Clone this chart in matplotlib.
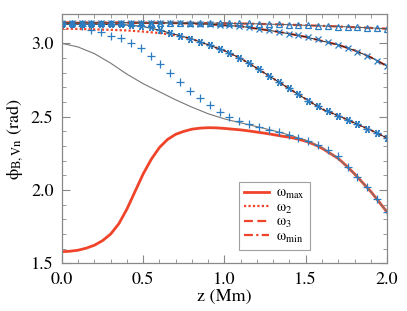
import numpy as np
import matplotlib
matplotlib.use("Agg")
import matplotlib.pyplot as plt

plt.rcParams['font.family'] = ['STIXGeneral', 'DejaVu Serif']
plt.rcParams['mathtext.fontset'] = 'stix'

# marker grid
z_mark = np.linspace(0, 2, 34)
plus_vals = [3.14, 3.135, 3.12, 3.09, 3.075, 3.052, 3.033, 3.0, 2.965, 2.915,
             2.86, 2.80, 2.738, 2.677, 2.625, 2.58, 2.534, 2.50, 2.47, 2.448,
             2.427, 2.409, 2.393, 2.375, 2.357, 2.333, 2.305, 2.27, 2.23, 2.16,
             2.09, 2.02, 1.94, 1.85]
star_vals = [3.135, 3.135, 3.135, 3.134, 3.133, 3.132, 3.13, 3.127, 3.12, 3.108,
             3.09, 3.07, 3.052, 3.032, 3.01, 2.987, 2.963, 2.935, 2.903, 2.865,
             2.822, 2.78, 2.737, 2.693, 2.652, 2.61, 2.572, 2.538, 2.508, 2.477,
             2.448, 2.418, 2.388, 2.355]
cross_vals = [3.14, 3.14, 3.14, 3.14, 3.14, 3.14, 3.14, 3.14, 3.139, 3.139,
              3.138, 3.138, 3.137, 3.135, 3.133, 3.13, 3.127, 3.122, 3.116, 3.109,
              3.10, 3.09, 3.078, 3.066, 3.055, 3.043, 3.028, 3.01, 2.99, 2.968,
              2.944, 2.915, 2.882, 2.845]
tri_vals = [3.142, 3.142, 3.142, 3.142, 3.142, 3.142, 3.142, 3.142, 3.142, 3.141,
            3.141, 3.141, 3.140, 3.140, 3.140, 3.139, 3.139, 3.138, 3.137, 3.136,
            3.134, 3.132, 3.130, 3.128, 3.126, 3.123, 3.120, 3.117, 3.114, 3.111,
            3.108, 3.105, 3.102, 3.10]

# curves
z_fine = np.round(np.arange(0, 2.0001, 0.05), 2)
wmax_vals = [1.58, 1.583, 1.59, 1.604, 1.624, 1.655, 1.70, 1.77, 1.87, 1.99,
             2.11, 2.21, 2.29, 2.345, 2.38, 2.40, 2.415, 2.422, 2.425, 2.424,
             2.42, 2.415, 2.41, 2.403, 2.395, 2.387, 2.378, 2.368, 2.36, 2.348,
             2.333, 2.312, 2.285, 2.25, 2.215, 2.165, 2.11, 2.05, 1.99, 1.92, 1.85]

z_line = np.round(np.arange(0, 2.0001, 0.1), 1)
gray_vals = [3.0, 2.975, 2.93, 2.865, 2.79, 2.725, 2.67, 2.615, 2.565, 2.52,
             2.485, 2.458, 2.432, 2.405, 2.375, 2.34, 2.29, 2.215, 2.11, 1.99, 1.85]
w2_vals = [3.10, 3.098, 3.095, 3.092, 3.088, 3.08, 3.07, 3.055, 3.03, 2.99,
           2.95, 2.897, 2.83, 2.76, 2.69, 2.62, 2.552, 2.507, 2.457, 2.408, 2.355]
w2_thin = [3.13, 3.13, 3.13, 3.128, 3.125, 3.115, 3.09, 3.06, 3.03, 2.99,
           2.95, 2.897, 2.83, 2.76, 2.69, 2.62, 2.552, 2.507, 2.457, 2.408, 2.355]
w3_vals = [3.14, 3.14, 3.14, 3.14, 3.14, 3.139, 3.139, 3.138, 3.135, 3.13,
           3.123, 3.116, 3.10, 3.084, 3.065, 3.044, 3.016, 2.99, 2.952, 2.905, 2.845]
wmin_vals = [3.142, 3.142, 3.142, 3.142, 3.142, 3.141, 3.141, 3.140, 3.139, 3.138,
             3.137, 3.135, 3.133, 3.130, 3.127, 3.123, 3.119, 3.115, 3.110, 3.105, 3.10]

labels = [r'ω$_{\rm max}$', r'ω$_{\rm 2}$', r'ω$_{\rm 3}$', r'ω$_{\rm min}$']

red = '#F0442A'
blue = '#2B7CC0'
frame = '#888888'

fig = plt.figure(figsize=(4.07, 3.11), dpi=100)
ax = fig.add_axes([0.152, 0.153, 0.799, 0.802])

# red model lines
l1, = ax.plot(z_fine, wmax_vals, color=red, lw=2.0, ls='-', label=labels[0])
l2, = ax.plot(z_line, w2_vals, color=red, lw=1.6, ls=(0, (1, 1)), label=labels[1])
l3, = ax.plot(z_line, w3_vals, color=red, lw=1.6, ls=(0, (4, 2)), label=labels[2])
l4, = ax.plot(z_line, wmin_vals, color=red, lw=1.6, ls=(0, (4, 1.5, 1, 1.5)), label=labels[3])

# thin reference lines
ax.plot(z_line, gray_vals, color='#777777', lw=0.8)
ax.plot(z_line, w2_thin, color='#222222', lw=0.7)
ax.plot(z_line, w3_vals, color='#222222', lw=0.7)
ax.plot(z_line, wmin_vals, color='#555555', lw=0.7)

# markers
mk = dict(color=blue, ls='none', ms=5.5, mew=0.9)
ax.plot(z_mark, plus_vals, marker='+', **mk)
ax.plot(z_mark, star_vals, marker=(6, 2, 90), **mk)
ax.plot(z_mark, cross_vals, marker='x', ms=5, mew=0.9, color=blue, ls='none')
ax.plot(z_mark, tri_vals, marker='^', mfc='none', mec=blue, ms=5, mew=0.9, ls='none')

ax.set_xlim(0, 2.0)
ax.set_ylim(1.5, 3.2)
ax.set_xticks([0.0, 0.5, 1.0, 1.5, 2.0])
ax.set_yticks([1.5, 2.0, 2.5, 3.0])
ax.set_xticks(np.round(np.arange(0, 2.0001, 0.1), 1), minor=True)
ax.set_yticks(np.round(np.arange(1.5, 3.2001, 0.1), 1), minor=True)
ax.xaxis.set_major_formatter(matplotlib.ticker.FormatStrFormatter('%.1f'))
ax.yaxis.set_major_formatter(matplotlib.ticker.FormatStrFormatter('%.1f'))
ax.tick_params(which='both', direction='in', top=True, right=True, colors=frame,
               labelcolor='black', labelsize=13)
ax.tick_params(which='major', length=6, width=0.8, pad=6)
ax.tick_params(which='minor', length=3, width=0.6)
for s in ax.spines.values():
    s.set_color(frame)
    s.set_linewidth(0.9)

ax.set_xlabel('z (Mm)', fontsize=13, labelpad=1)
ax.set_ylabel(r'ϕ$_{\rm B,Vn}$ (rad)', fontsize=13, labelpad=4)

leg = ax.legend(handles=[l1, l2, l3, l4], loc='lower left', bbox_to_anchor=(0.545, 0.055),
                fontsize=10.5, frameon=True, fancybox=False, handlelength=1.7,
                labelspacing=0.0, borderpad=0.35, handletextpad=0.5, borderaxespad=0.0)
leg.get_frame().set_edgecolor(frame)
leg.get_frame().set_linewidth(0.8)

fig.savefig('out.png', dpi=100)
